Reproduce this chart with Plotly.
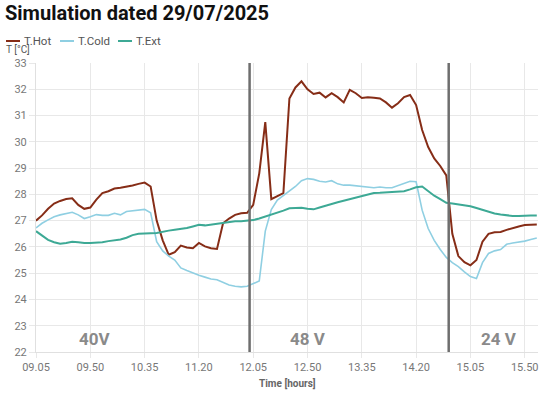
import plotly.graph_objects as go

# ---- data ----
start_time = "09.05"
step_min = 5
t_hot = [27.0, 27.2, 27.45, 27.65, 27.75, 27.82, 27.85, 27.6, 27.45, 27.5,
         27.8, 28.05, 28.12, 28.22, 28.25, 28.29, 28.34, 28.4, 28.45, 28.3,
         27.0, 26.25, 25.7, 25.8, 26.05, 25.98, 25.95, 26.15, 26.02, 25.95,
         25.92, 26.9, 27.08, 27.22, 27.28, 27.3, 27.6, 28.8, 30.75, 27.82,
         27.95, 28.05, 31.65, 32.07, 32.3, 32.0, 31.82, 31.87, 31.69, 31.85,
         31.7, 31.5, 31.98, 31.85, 31.67, 31.7, 31.68, 31.65, 31.5, 31.3,
         31.47, 31.7, 31.78, 31.4, 30.45, 29.8, 29.37, 29.08, 28.72, 26.5,
         25.65, 25.42, 25.3, 25.5, 26.2, 26.5, 26.56, 26.57, 26.65, 26.72,
         26.78, 26.83, 26.85, 26.85]
t_cold = [26.72, 26.9, 27.03, 27.15, 27.22, 27.28, 27.32, 27.22, 27.08, 27.15,
          27.23, 27.2, 27.2, 27.28, 27.22, 27.35, 27.38, 27.42, 27.43, 27.3,
          26.2, 25.85, 25.65, 25.5, 25.2, 25.1, 25.0, 24.92, 24.85, 24.78,
          24.75, 24.65, 24.55, 24.5, 24.48, 24.5, 24.6, 24.7, 26.6, 27.42,
          27.78, 27.95, 28.12, 28.3, 28.52, 28.6, 28.57, 28.5, 28.47, 28.52,
          28.4, 28.35, 28.35, 28.32, 28.3, 28.28, 28.25, 28.28, 28.25, 28.25,
          28.33, 28.42, 28.5, 28.48, 27.4, 26.7, 26.25, 25.9, 25.6, 25.4,
          25.25, 25.05, 24.87, 24.8, 25.4, 25.75, 25.85, 25.9, 26.1, 26.15,
          26.18, 26.22, 26.28, 26.34]
t_ext = [26.6, 26.42, 26.27, 26.18, 26.12, 26.15, 26.2, 26.18, 26.15, 26.15,
         26.16, 26.18, 26.22, 26.25, 26.28, 26.35, 26.45, 26.5, 26.5, 26.52,
         26.53, 26.58, 26.62, 26.65, 26.68, 26.72, 26.78, 26.84, 26.82, 26.85,
         26.88, 26.93, 26.96, 26.98, 26.98, 27.0, 27.02, 27.08, 27.15, 27.22,
         27.3, 27.38, 27.47, 27.49, 27.49, 27.45, 27.43, 27.5, 27.58, 27.63,
         27.7, 27.76, 27.82, 27.88, 27.94, 28.0, 28.05, 28.06, 28.07, 28.08,
         28.09, 28.12, 28.19, 28.27, 28.3, 28.12, 27.95, 27.82, 27.68, 27.65,
         27.62, 27.58, 27.55, 27.48, 27.4, 27.32, 27.27, 27.23, 27.2, 27.18,
         27.18, 27.2, 27.2, 27.2]
tick_labels = ["09.05", "09.50", "10.35", "11.20", "12.05", "12.50",
               "13.35", "14.20", "15.05", "15.50"]
phase_changes = ["12.02", "14.47"]
phase_labels = ["40V", "48 V", "24 V"]
phase_label_times = ["09.54", "12.50", "15.29"]
series_names = ["T.Hot", "T.Cold", "T.Ext"]
colors = ["#862d17", "#8fcfe2", "#3da995"]


def to_min(s):
    h, m = s.split(".")
    return int(h) * 60 + int(m)


t0 = to_min(start_time)
x = [i * step_min for i in range(len(t_hot))]
tickvals = [to_min(s) - t0 for s in tick_labels]

fig = go.Figure()
for name, ys, c, w in zip(series_names, [t_hot, t_cold, t_ext], colors, [2, 1.6, 2]):
    fig.add_trace(go.Scatter(x=x, y=ys, mode="lines", name=name,
                             line=dict(color=c, width=w), showlegend=False))

for s in phase_changes:
    xv = to_min(s) - t0
    fig.add_shape(type="line", xref="x", yref="y", x0=xv, x1=xv, y0=22, y1=33,
                  line=dict(color="#6e6e6e", width=2.5))

for lab, s in zip(phase_labels, phase_label_times):
    fig.add_annotation(x=to_min(s) - t0, y=22.5, xref="x", yref="y", text=lab,
                       showarrow=False, font=dict(size=17, color="#8a8a8a",
                                                  family="Roboto", weight="bold"))

# manual legend
W, H = 550, 396
L, R, T, B = 36, 12, 63, 44
pw, ph = W - L - R, H - T - B


def px(xp):
    return (xp - L) / pw


def py(yp):
    return (H - B - yp) / ph


leg_x = [6, 60, 118]
for name, c, lx in zip(series_names, colors, leg_x):
    fig.add_shape(type="line", xref="paper", yref="paper", x0=px(lx), x1=px(lx + 14),
                  y0=py(41), y1=py(41), line=dict(color=c, width=2))
    fig.add_annotation(xref="paper", yref="paper", x=px(lx + 16), y=py(41), text=name,
                       showarrow=False, xanchor="left", yanchor="middle",
                       font=dict(size=11.5, color="#555555", family="Roboto"))

fig.add_annotation(xref="paper", yref="paper", x=px(4), y=py(50), text="T [°C]",
                   showarrow=False, xanchor="left", yanchor="middle",
                   font=dict(size=10, color="#555555", family="Roboto"))
fig.add_annotation(xref="paper", yref="paper", x=px(287), y=py(384), text="<b>Time [hours]</b>",
                   showarrow=False, xanchor="center", yanchor="middle",
                   font=dict(size=10, color="#666666", family="Roboto"))

fig.update_layout(
    width=W, height=H,
    margin=dict(l=L, r=R, t=T, b=B, autoexpand=False),
    paper_bgcolor="white", plot_bgcolor="white",
    font=dict(family="Roboto", color="#666666"),
    title=dict(text="<b>Simulation dated 29/07/2025</b>", x=5 / W, xanchor="left",
               y=1 - 13 / H, yanchor="middle", xref="container", yref="container",
               font=dict(size=20, color="#111111", family="Roboto"),
               automargin=False),
    xaxis=dict(range=[0, 416], tickvals=tickvals, ticktext=tick_labels,
               showgrid=True, gridcolor="#e8e8e8", gridwidth=1,
               ticks="outside", ticklen=5, tickcolor="#e8e8e8",
               showline=True, linecolor="#e0e0e0", linewidth=1, automargin=False,
               tickfont=dict(size=11, color="#777777"), zeroline=False),
    yaxis=dict(range=[22, 33], dtick=1, showgrid=True, gridcolor="#e8e8e8", gridwidth=1,
               ticks="outside", ticklen=6, tickcolor="#e8e8e8",
               showline=True, linecolor="#e0e0e0", linewidth=1, automargin=False,
               tickfont=dict(size=11, color="#777777"), zeroline=False),
)

fig.write_html("out.html", config={"displayModeBar": False},
               post_script="document.body.style.margin='0px';document.body.style.padding='0px';")
